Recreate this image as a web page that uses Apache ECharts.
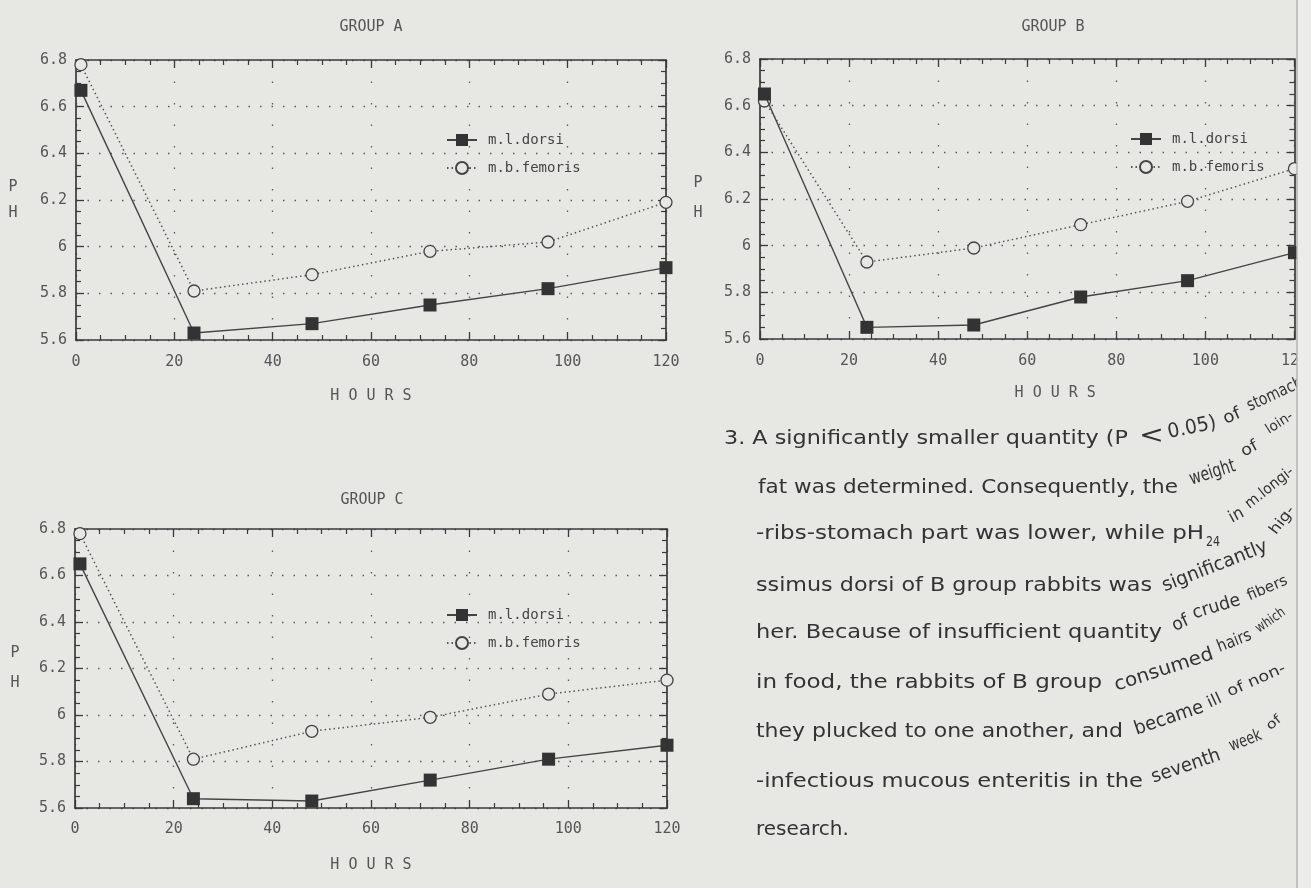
<!DOCTYPE html>
<html><head><meta charset="utf-8">
<script src="https://cdn.jsdelivr.net/npm/echarts@6/dist/echarts.min.js"></script>
<style>html,body{margin:0;padding:0;background:#e7e7e4;}#c{width:1311px;height:888px;}</style>
</head><body><div id="c"></div>
<script>
// ---- data ----
const hours = [1, 24, 48, 72, 96, 120];
const xTicks = [0, 20, 40, 60, 80, 100, 120];
const yTicks = [5.6, 5.8, 6, 6.2, 6.4, 6.6, 6.8];
const seriesNames = ['m.l.dorsi', 'm.b.femoris'];
const groupTitles = ['GROUP A', 'GROUP B', 'GROUP C'];
const groupA_dorsi   = [6.67, 5.63, 5.67, 5.75, 5.82, 5.91];
const groupA_femoris = [6.78, 5.81, 5.88, 5.98, 6.02, 6.19];
const groupB_dorsi   = [6.65, 5.65, 5.66, 5.78, 5.85, 5.97];
const groupB_femoris = [6.62, 5.93, 5.99, 6.09, 6.19, 6.33];
const groupC_dorsi   = [6.65, 5.64, 5.63, 5.72, 5.81, 5.87];
const groupC_femoris = [6.78, 5.81, 5.93, 5.99, 6.09, 6.15];
const xName = 'H O U R S';
const yNameParts = ['P', 'H'];

// ---- layout / style ----
const BG = '#e7e7e4', INK = '#3a3a3a', LBL = '#555';
const MONO = '"DejaVu Sans Mono", monospace';
const SANS = '"DejaVu Sans", sans-serif';
const grids = [
  {left: 76, top: 60, width: 590, height: 280},
  {left: 760, top: 59, width: 535, height: 280},
  {left: 75, top: 529, width: 592, height: 279}
];
const nameLayout = [{gap: 49, shift: 0, margin: 15}, {gap: 47, shift: 56, margin: 15}, {gap: 50, shift: 0, margin: 14}];
const legendPos = [{left: 441, top: 128}, {left: 1125, top: 127}, {left: 441, top: 603}];
const titlePos = [[371, 27], [1053, 27], [372, 500]];
const yNamePos = [[13, 187, 213], [698, 183, 213], [15, 653, 683]];

const groups = [[groupA_dorsi, groupA_femoris], [groupB_dorsi, groupB_femoris], [groupC_dorsi, groupC_femoris]];
const xStep = xTicks[1] - xTicks[0];
const yStep = Math.round((yTicks[1] - yTicks[0]) * 100) / 100;

const xAxes = [], yAxes = [], series = [], legends = [], graphics = [];
groups.forEach((g, gi) => {
  ['bottom', 'top'].forEach(pos => {
    const main = pos === 'bottom';
    xAxes.push({
      type: 'value', gridIndex: gi, position: pos,
      min: xTicks[0], max: xTicks[xTicks.length - 1], interval: xStep,
      axisLine: {show: true, onZero: false, lineStyle: {color: INK, width: 1.7}},
      axisTick: {show: true, inside: true, length: 8, lineStyle: {color: INK, width: 1.3}},
      minorTick: {show: true, splitNumber: 4, length: 5, lineStyle: {color: INK, width: 1.2}},
      axisLabel: {show: main, margin: nameLayout[gi].margin, fontFamily: MONO, fontSize: 15, color: LBL},
      splitLine: {show: main, lineStyle: {type: [1.5, 20], color: '#5a5a5a', width: 1.3}},
      name: main ? xName : '', nameLocation: 'middle', nameGap: nameLayout[gi].gap,
      nameTextStyle: {fontFamily: MONO, fontSize: 15, color: LBL, padding: [0, 0, 0, nameLayout[gi].shift]}
    });
  });
  ['left', 'right'].forEach(pos => {
    const main = pos === 'left';
    yAxes.push({
      type: 'value', gridIndex: gi, position: pos,
      min: yTicks[0], max: yTicks[yTicks.length - 1], interval: yStep,
      axisLine: {show: true, onZero: false, lineStyle: {color: INK, width: 1.7}},
      axisTick: {show: true, inside: true, length: 8, lineStyle: {color: INK, width: 1.3}},
      minorTick: {show: true, splitNumber: 4, length: 5, lineStyle: {color: INK, width: 1.2}},
      axisLabel: {show: main, margin: 9, fontFamily: MONO, fontSize: 15, color: LBL},
      splitLine: {show: main, lineStyle: {type: [1.5, 10], color: '#5a5a5a', width: 1.3}}
    });
  });
  series.push({
    type: 'line', name: seriesNames[0], xAxisIndex: gi * 2, yAxisIndex: gi * 2, z: 4,
    data: hours.map((h, i) => [h, g[0][i]]),
    symbol: 'rect', symbolSize: 13,
    itemStyle: {color: '#333'},
    lineStyle: {color: '#444', width: 1.4}
  });
  series.push({
    type: 'line', name: seriesNames[1], xAxisIndex: gi * 2, yAxisIndex: gi * 2, z: 3,
    data: hours.map((h, i) => [h, g[1][i]]),
    symbol: 'circle', symbolSize: 12,
    itemStyle: {color: BG, borderColor: '#444', borderWidth: 1.3},
    lineStyle: {color: '#555', width: 1.5, type: [1.5, 3]}
  });
  legends.push({
    data: seriesNames, orient: 'vertical', left: legendPos[gi].left, top: legendPos[gi].top,
    itemWidth: 30, itemHeight: 15, itemGap: 14, selectedMode: false,
    textStyle: {fontFamily: MONO, fontSize: 14, color: '#444', padding: [0, 0, 0, 6]}
  });
  graphics.push({type: 'text', x: titlePos[gi][0], y: titlePos[gi][1],
    style: {text: groupTitles[gi], font: '15px ' + MONO, fill: LBL, align: 'center', verticalAlign: 'middle'}});
  yNameParts.forEach((p, k) => graphics.push({type: 'text', x: yNamePos[gi][0], y: yNamePos[gi][1 + k],
    style: {text: p, font: '15px ' + MONO, fill: LBL, align: 'center', verticalAlign: 'middle'}}));
});

// ---- paragraph on the right (page curls at right edge) ----
// flat part: [x, end], curled words: [x1, y1, x2, y2, fontSize, text]
const para = [
  {y: 439, x: 724, end: 1128, t: '3. A significantly smaller quantity (P',
   curl: [[1139, 436, 1164, 436, 25, '<'], [1168, 433, 1216, 423, 20, '0.05)'], [1224, 420, 1240, 413, 17, 'of'], [1248, 407, 1302, 382, 17, 'stomach']]},
  {y: 488, x: 758, end: 1178, t: 'fat was determined. Consequently, the',
   curl: [[1190, 480, 1235, 466, 19, 'weight'], [1242, 453, 1257, 445, 16, 'of'], [1267, 431, 1292, 415, 14, 'loin-']]},
  {y: 534, x: 756, end: 1204, t: '-ribs-stomach part was lower, while pH',
   curl: [[1206, 542, 1220, 542, 14, '24'], [1230, 519, 1243, 512, 17, 'in'], [1247, 506, 1292, 470, 15, 'm.longi-']]},
  {y: 586, x: 756, end: 1152, t: 'ssimus dorsi of B group rabbits was',
   curl: [[1163, 587, 1267, 546, 19, 'significantly'], [1273, 533, 1292, 508, 15, 'hig-']]},
  {y: 633, x: 756, end: 1162, t: 'her. Because of insufficient quantity',
   curl: [[1173, 627, 1188, 620, 18, 'of'], [1193, 614, 1240, 600, 18, 'crude'], [1248, 597, 1287, 580, 15, 'fibers']]},
  {y: 683, x: 756, end: 1102, t: 'in food, the rabbits of B group',
   curl: [[1115, 686, 1213, 654, 19, 'consumed'], [1218, 648, 1251, 635, 17, 'hairs'], [1257, 630, 1284, 611, 14, 'which']]},
  {y: 732, x: 756, end: 1123, t: 'they plucked to one another, and',
   curl: [[1135, 730, 1203, 707, 19, 'became'], [1208, 704, 1221, 698, 16, 'ill'], [1228, 693, 1285, 668, 15, 'of non-']]},
  {y: 782, x: 756, end: 1143, t: '-infectious mucous enteritis in the',
   curl: [[1152, 778, 1220, 755, 19, 'seventh'], [1230, 747, 1261, 735, 17, 'week'], [1268, 728, 1280, 718, 13, 'of']]},
  {y: 830, x: 756, end: 0, t: 'research.', curl: []}
];
const TXT = '#333';
const FS = 20;
const ctx = document.createElement('canvas').getContext('2d');
para.forEach(L => {
  ctx.font = FS + 'px ' + SANS;
  const w = ctx.measureText(L.t).width;
  const sx = L.end ? (L.end - L.x) / w : 1;
  graphics.push({type: 'text', x: L.x, y: L.y, scaleX: sx, z: 10,
    style: {text: L.t, font: FS + 'px ' + SANS, fill: TXT, align: 'left', verticalAlign: 'middle'}});
  L.curl.forEach(c => {
    ctx.font = c[4] + 'px ' + SANS;
    const cw = ctx.measureText(c[5]).width;
    const dx = c[2] - c[0], dy = c[1] - c[3];
    const len = Math.sqrt(dx * dx + dy * dy);
    graphics.push({type: 'text', x: c[0], y: c[1], rotation: Math.atan2(dy, dx), scaleX: len / cw, z: 10,
      style: {text: c[5], font: c[4] + 'px ' + SANS, fill: TXT, align: 'left', verticalAlign: 'middle'}});
  });
});
// page edge strip
graphics.push({type: 'rect', z: 100, shape: {x: 1297, y: 0, width: 14, height: 888}, style: {fill: '#ececea'}});
graphics.push({type: 'line', z: 101, shape: {x1: 1297, y1: 0, x2: 1297, y2: 888}, style: {stroke: '#b5b5b2', lineWidth: 1.5}});

const chart = echarts.init(document.getElementById('c'), null, {renderer: 'canvas', width: 1311, height: 888});
chart.setOption({
  backgroundColor: BG,
  animation: false,
  grid: grids.map(g => Object.assign({containLabel: false}, g)),
  xAxis: xAxes, yAxis: yAxes, series: series, legend: legends,
  graphic: graphics
});
</script></body></html>
